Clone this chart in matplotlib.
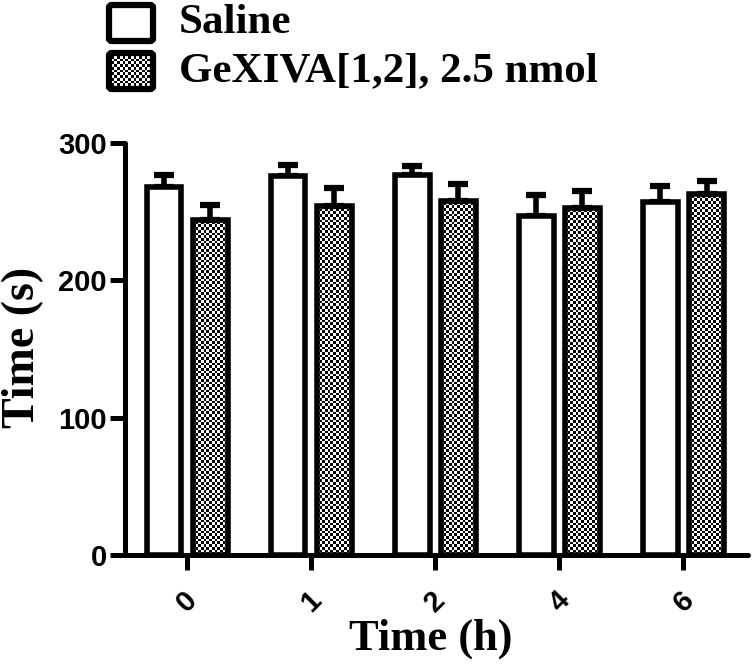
import numpy as np
import matplotlib
matplotlib.use("Agg")
import matplotlib.pyplot as plt
from matplotlib.patches import FancyBboxPatch

# data
times = ["0", "1", "2", "4", "6"]
saline = [268, 276, 277, 247, 257]
saline_err = [9, 8, 6, 15, 12]
gex = [244, 254, 258, 253, 263]
gex_err = [11, 13, 12, 12, 9]
labels = ["Saline", "GeXIVA[1,2], 2.5 nmol"]

W, H = 752, 672
fig = plt.figure(figsize=(W / 100, H / 100), dpi=100)
ax = fig.add_axes([125 / W, 1 - 555 / H, (748 - 125) / W, (555 - 143) / H])

serif = "Liberation Serif"
sans = "Liberation Sans"
lw = 4.0

x = np.arange(len(times))
bw = 0.28
off = 0.186

bars1 = ax.bar(x - off, saline, bw, facecolor="white", edgecolor="black",
               linewidth=lw, zorder=3, joinstyle="miter")
bars2 = ax.bar(x + off, gex, bw, facecolor="none", edgecolor="black",
               linewidth=lw, zorder=3, joinstyle="miter")

ax.errorbar(x - off, saline, yerr=[np.zeros(5), saline_err], fmt="none",
            ecolor="black", elinewidth=4, capsize=7, capthick=4.5, zorder=2)
ax.errorbar(x + off, gex, yerr=[np.zeros(5), gex_err], fmt="none",
            ecolor="black", elinewidth=4, capsize=7, capthick=4.5, zorder=2)

ax.set_xlim(-0.5, 4.52)
ax.set_ylim(0, 300)

# checkerboard fill for the GeXIVA bars
cell = 2.7  # pixels
px_per_y = (555 - 143) / 300
px_per_x = (748 - 125) / 5.02
for b in bars2:
    x0, w, h = b.get_x(), b.get_width(), b.get_height()
    nc = max(2, int(round(w * px_per_x / cell)))
    nr = max(2, int(round(h * px_per_y / cell)))
    chk = (np.indices((nr, nc)).sum(axis=0) % 2).astype(float)
    im = ax.imshow(chk, cmap="gray", extent=(x0, x0 + w, 0, h),
                   interpolation="nearest", aspect="auto", zorder=1.5)
    im.set_clip_path(b)
ax.set_xlim(-0.5, 4.52)
ax.set_ylim(0, 300)
ax.set_aspect("auto")

for s in ["top", "right"]:
    ax.spines[s].set_visible(False)
for s in ["left", "bottom"]:
    ax.spines[s].set_linewidth(3.6)
    ax.spines[s].set_capstyle("round")

ax.set_yticks([0, 100, 200, 300])
ax.set_xticks(x)
ax.set_xticklabels(times, rotation=45, ha="center", va="top")
ax.tick_params(axis="both", width=3.6, length=11, direction="out")
ax.tick_params(axis="y", pad=2)
ax.tick_params(axis="x", pad=11)
for t in ax.get_yticklabels() + ax.get_xticklabels():
    t.set_fontfamily(sans)
    t.set_fontweight("bold")
    t.set_fontsize(21)

ax.set_ylabel("Time (s)", fontfamily=serif, fontweight="bold", fontsize=33)
ax.yaxis.set_label_coords(-0.13, 0.505)
ax.set_xlabel("Time (h)", fontfamily=serif, fontweight="bold", fontsize=32)
ax.xaxis.set_label_coords(0.49, -0.155)

# legend drawn at the top left
rows = [23, 71]
for i, (lab, yc) in enumerate(zip(labels, rows)):
    bx = FancyBboxPatch((109 / W, (H - yc - 18) / H), 44 / W, 36 / H,
                        boxstyle="round,pad=0,rounding_size=0.004",
                        transform=fig.transFigure, facecolor="white" if i == 0 else "none",
                        edgecolor="black", linewidth=4.5, zorder=5)
    fig.add_artist(bx)
    if i == 1:
        chk = (np.indices((13, 16)).sum(axis=0) % 2).astype(float)
        lax = fig.add_axes([109 / W, (H - yc - 18) / H, 44 / W, 36 / H])
        lax.imshow(chk, cmap="gray", interpolation="nearest", aspect="auto")
        lax.axis("off")
    fig.text(179 / W, (H - yc) / H, lab, fontfamily=serif, fontweight="bold",
             fontsize=31, va="center", ha="left")

fig.savefig("out.png", dpi=100)
